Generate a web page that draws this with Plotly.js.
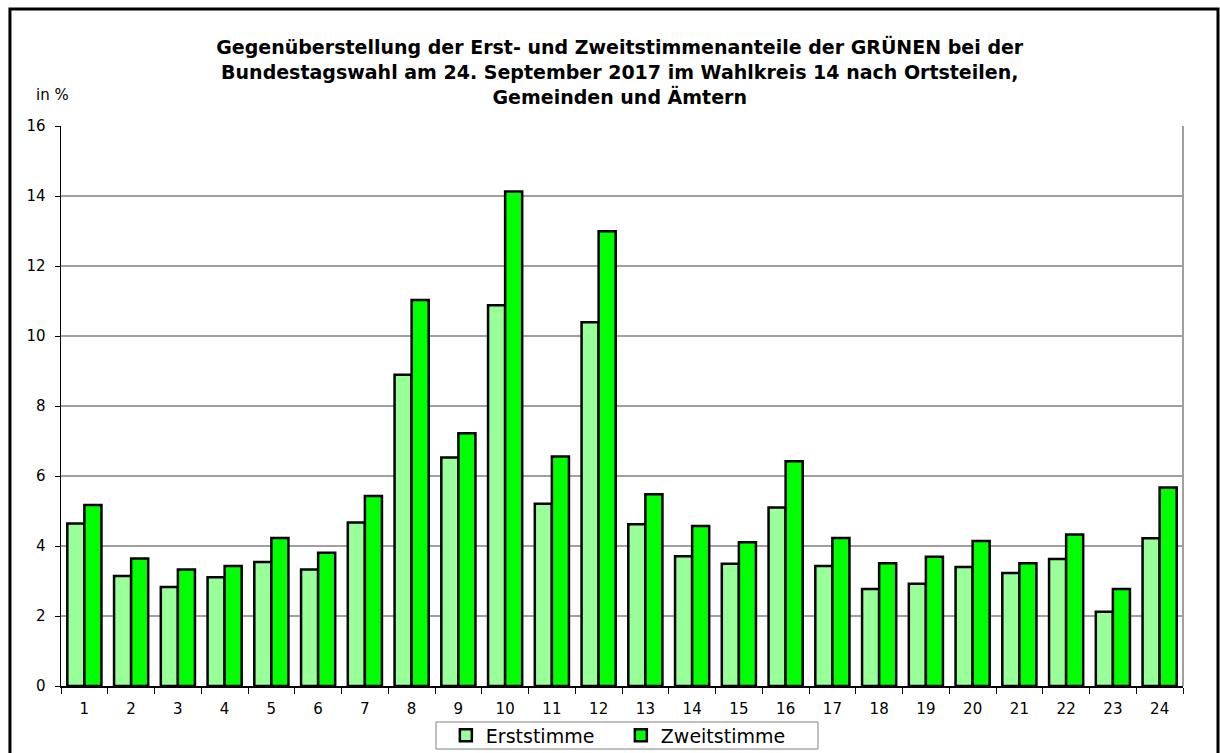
<!DOCTYPE html>
<html>
<head>
<meta charset="utf-8">
<script src="https://cdn.plot.ly/plotly-3.0.1.min.js"></script>
<style>html,body{margin:0;padding:0;background:#fff;}#chart{width:1220px;height:753px;}</style>
</head>
<body>
<div id="chart"></div>
<script>
const categories = ["1","2","3","4","5","6","7","8","9","10","11","12","13","14","15","16","17","18","19","20","21","22","23","24"];
const erststimme = [4.64,3.14,2.83,3.11,3.54,3.33,4.67,8.89,6.53,10.88,5.21,10.39,4.62,3.71,3.49,5.10,3.43,2.77,2.92,3.40,3.23,3.63,2.12,4.22];
const zweitstimme = [5.17,3.64,3.33,3.43,4.23,3.81,5.43,11.03,7.22,14.13,6.56,12.99,5.48,4.57,4.11,6.42,4.23,3.51,3.69,4.14,3.51,4.33,2.77,5.67];
const yTicks = [0,2,4,6,8,10,12,14,16];

const FONT = "DejaVu Sans, Liberation Sans, Arial, sans-serif";
const traces = [
  {type:"bar", name:"Erststimme", x:categories, y:erststimme,
   marker:{color:"#99FF99", line:{color:"#000000", width:2.5}}},
  {type:"bar", name:"Zweitstimme", x:categories, y:zweitstimme,
   marker:{color:"#00FF00", line:{color:"#000000", width:2.5}}}
];
const layout = {
  width:1220, height:753,
  margin:{l:61, r:37, t:126, b:67, autoexpand:false},
  paper_bgcolor:"#ffffff", plot_bgcolor:"#ffffff",
  font:{family:FONT, color:"#000000", size:15},
  barmode:"group", bargap:0.27, bargroupgap:0,
  title:{text:"<b>Gegenüberstellung der Erst- und Zweitstimmenanteile der GRÜNEN bei der<br>Bundestagswahl am 24. September 2017 im Wahlkreis 14 nach Ortsteilen,<br>Gemeinden und Ämtern</b>",
         font:{family:FONT, size:19, color:"#000000"}, x:0.508, xanchor:"center", y:0.928, yanchor:"top"},
  xaxis:{type:"category", showline:true, linecolor:"#000000", linewidth:1.5,
         ticks:"outside", tickson:"boundaries", ticklen:6, tickcolor:"#000000", ticklabelstandoff:8,
         tickfont:{family:FONT, size:15}, showgrid:false, zeroline:false, fixedrange:true},
  yaxis:{range:[0,16], tickvals:yTicks, ticktext:yTicks.map(String), showline:true, linecolor:"#000000", linewidth:1.5,
         ticks:"outside", ticklen:5, tickcolor:"#000000", ticklabelstandoff:6, tickfont:{family:FONT, size:15},
         showgrid:true, gridcolor:"#a0a0a0", gridwidth:1.5, zeroline:false, fixedrange:true},
  showlegend:true,
  legend:{orientation:"h", x:0.343, xanchor:"left", y:-0.0884, yanchor:"middle",
          borderwidth:0, bgcolor:"rgba(0,0,0,0)",
          font:{family:FONT, size:19}, itemwidth:30, entrywidth:130, traceorder:"normal"},
  annotations:[{text:"in %", xref:"paper", yref:"paper", x:-0.008, y:1.0554, xanchor:"center", yanchor:"middle",
                showarrow:false, font:{family:FONT, size:15, color:"#000000"}}],
  shapes:[
    {type:"line", xref:"paper", yref:"paper", x0:1, x1:1, y0:0, y1:1, line:{color:"#a0a0a0", width:2}},
    {type:"rect", xref:"paper", yref:"paper", x0:0.3342, x1:0.6747, y0:-0.0643, y1:-0.1125, line:{color:"#808080", width:1}},
    {type:"rect", xref:"paper", yref:"paper", x0:-0.0455, x1:1.0312, y0:-0.14, y1:1.2089, line:{color:"#000000", width:3}}
  ]
};
Plotly.newPlot("chart", traces, layout, {displayModeBar:false, staticPlot:true});
</script>
</body>
</html>
